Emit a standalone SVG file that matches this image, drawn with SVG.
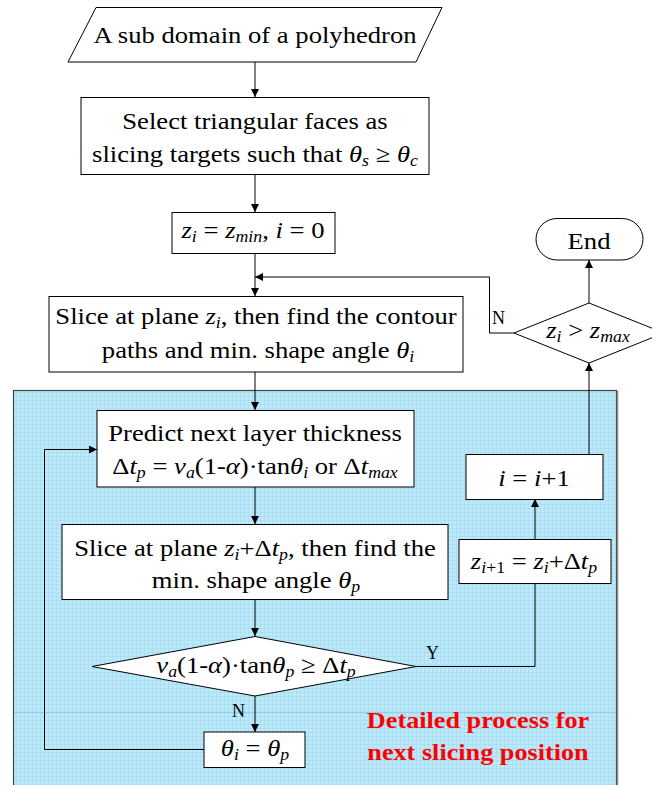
<svg xmlns="http://www.w3.org/2000/svg" width="652" height="785" viewBox="0 0 652 785">
<style>
.t{font-family:'Liberation Serif','Times New Roman',serif;font-size:24px;fill:#000;text-anchor:middle}
.it{font-style:italic}
.sb{font-size:16px;font-style:italic}
.su{font-size:16px}
.lab{font-family:'Liberation Serif','Times New Roman',serif;font-size:18px;fill:#000}
.red{font-weight:bold;fill:#ff0000;font-size:23px}
.box{fill:#fff;stroke:#000;stroke-width:1}
.ln{fill:none;stroke:#000;stroke-width:1}
</style>
<defs>
<marker id="ah" viewBox="0 0 10 10" refX="10" refY="5" markerWidth="8" markerHeight="8" markerUnits="userSpaceOnUse" orient="auto">
<path d="M0,0 L10,5 L0,10 z" fill="#000"/>
</marker>
<pattern id="grid" width="4" height="4" patternUnits="userSpaceOnUse">
<rect width="4" height="4" fill="#bde9fa"/>
<path d="M0,0.5 H4 M0.5,0 V4" stroke="#abdff4" stroke-width="1"/>
</pattern>
</defs>
<rect width="652" height="785" fill="#fff"/>
<g id="panel">
<rect x="13.5" y="390.5" width="603" height="420" fill="url(#grid)" stroke="#444" stroke-width="1.2"/>
<line x1="14" y1="712.5" x2="616" y2="712.5" stroke="#8ed2f0" stroke-width="1.5"/>
<line x1="617.5" y1="391" x2="617.5" y2="785" stroke="#888" stroke-width="1.5"/>
</g>
<g id="connectors">
<line class="ln" x1="255" y1="62" x2="255" y2="97" marker-end="url(#ah)"/>
<line class="ln" x1="255" y1="174" x2="255" y2="212" marker-end="url(#ah)"/>
<line class="ln" x1="255" y1="253" x2="255" y2="296" marker-end="url(#ah)"/>
<polyline class="ln" points="514,333 489.5,333 489.5,277 255,277" marker-end="url(#ah)"/>
<line class="ln" x1="589" y1="303" x2="589" y2="260" marker-end="url(#ah)"/>
<line class="ln" x1="589" y1="454" x2="589" y2="363" marker-end="url(#ah)"/>
<line class="ln" x1="255" y1="372" x2="255" y2="410" marker-end="url(#ah)"/>
<line class="ln" x1="255" y1="487" x2="255" y2="524" marker-end="url(#ah)"/>
<line class="ln" x1="255" y1="599" x2="255" y2="636" marker-end="url(#ah)"/>
<line class="ln" x1="255" y1="696" x2="255" y2="732" marker-end="url(#ah)"/>
<polyline class="ln" points="204,749.5 44.5,749.5 44.5,449.5 97,449.5" marker-end="url(#ah)"/>
<polyline class="ln" points="416,666.5 535,666.5 535,584"/>
<line class="ln" x1="535" y1="539" x2="535" y2="499" marker-end="url(#ah)"/>
<text class="lab" x="492" y="324">N</text>
<text class="lab" x="426" y="659">Y</text>
<text class="lab" x="232" y="717">N</text>
</g>
<g id="input">
<polygon class="box" points="96,7.5 442,7.5 416,62 68,62"/>
<text class="t" transform="translate(255,43) scale(1.11,1)">A sub domain of a polyhedron</text>
</g>
<g id="select">
<rect class="box" x="81" y="97.5" width="348" height="77"/>
<text class="t" transform="translate(255,129) scale(1.11,1)">Select triangular faces as</text>
<text class="t" transform="translate(255,162) scale(1.11,1)">slicing targets such that <tspan class="it">θ</tspan><tspan class="sb" dy="4">s</tspan><tspan dy="-4"> ≥ </tspan><tspan class="it">θ</tspan><tspan class="sb" dy="4">c</tspan></text>
</g>
<g id="init">
<rect class="box" x="172" y="212.5" width="163" height="41"/>
<text class="t" transform="translate(253,238) scale(1.11,1)"><tspan class="it">z</tspan><tspan class="sb" dy="4">i</tspan><tspan dy="-4"> = </tspan><tspan class="it">z</tspan><tspan class="sb" dy="4">min</tspan><tspan dy="-4">, </tspan><tspan class="it">i</tspan> = 0</text>
</g>
<g id="slice">
<rect class="box" x="49" y="296.5" width="414" height="75.5"/>
<text class="t" transform="translate(256,324) scale(1.11,1)">Slice at plane <tspan class="it">z</tspan><tspan class="sb" dy="4">i</tspan><tspan dy="-4">, then find the contour</tspan></text>
<text class="t" transform="translate(258,358) scale(1.11,1)">paths and min. shape angle <tspan class="it">θ</tspan><tspan class="sb" dy="4">i</tspan></text>
</g>
<g id="check-end">
<polygon class="box" points="514,333 589,303 664,333 589,363"/>
<text class="t" transform="translate(588,338) scale(1.11,1)"><tspan class="it">z</tspan><tspan class="sb" dy="4">i</tspan><tspan dy="-4"> &gt; </tspan><tspan class="it">z</tspan><tspan class="sb" dy="4">max</tspan></text>
</g>
<g id="end">
<rect class="box" x="536" y="218.5" width="107" height="41.5" rx="21" ry="21"/>
<text class="t" transform="translate(589,249) scale(1.11,1)">End</text>
</g>
<g id="predict">
<rect class="box" x="97" y="410.5" width="317" height="76.5"/>
<text class="t" transform="translate(255,441) scale(1.11,1)">Predict next layer thickness</text>
<text class="t" transform="translate(255,474) scale(1.11,1)">Δ<tspan class="it">t</tspan><tspan class="sb" dy="4">p</tspan><tspan dy="-4"> = </tspan><tspan class="it">v</tspan><tspan class="sb" dy="4">a</tspan><tspan dy="-4">(1-</tspan><tspan class="it">α</tspan>)·tan<tspan class="it">θ</tspan><tspan class="sb" dy="4">i</tspan><tspan dy="-4"> or Δ</tspan><tspan class="it">t</tspan><tspan class="sb" dy="4">max</tspan></text>
</g>
<g id="slice-next">
<rect class="box" x="62" y="524.5" width="386" height="75"/>
<text class="t" transform="translate(255,556) scale(1.11,1)">Slice at plane <tspan class="it">z</tspan><tspan class="sb" dy="4">i</tspan><tspan dy="-4">+Δ</tspan><tspan class="it">t</tspan><tspan class="sb" dy="4">p</tspan><tspan dy="-4">, then find the</tspan></text>
<text class="t" transform="translate(256,588) scale(1.11,1)">min. shape angle <tspan class="it">θ</tspan><tspan class="sb" dy="4">p</tspan></text>
</g>
<g id="check-thickness">
<polygon class="box" points="92,666.5 255,636.5 416,666.5 255,696"/>
<text class="t" transform="translate(256,673) scale(1.11,1)"><tspan class="it">v</tspan><tspan class="sb" dy="4">a</tspan><tspan dy="-4">(1-</tspan><tspan class="it">α</tspan>)·tan<tspan class="it">θ</tspan><tspan class="sb" dy="4">p</tspan><tspan dy="-4"> ≥ Δ</tspan><tspan class="it">t</tspan><tspan class="sb" dy="4">p</tspan></text>
</g>
<g id="next-z">
<rect class="box" x="459" y="539.5" width="152" height="44"/>
<text class="t" transform="translate(534,569) scale(1.11,1)"><tspan class="it">z</tspan><tspan class="sb" dy="4">i</tspan><tspan class="su">+1</tspan><tspan dy="-4"> = </tspan><tspan class="it">z</tspan><tspan class="sb" dy="4">i</tspan><tspan dy="-4">+Δ</tspan><tspan class="it">t</tspan><tspan class="sb" dy="4">p</tspan></text>
</g>
<g id="increment">
<rect class="box" x="466" y="454.5" width="137" height="45"/>
<text class="t" transform="translate(534,486) scale(1.11,1)"><tspan class="it">i</tspan> = <tspan class="it">i</tspan>+1</text>
</g>
<g id="update-angle">
<rect class="box" x="204" y="732" width="101" height="35.5"/>
<text class="t" transform="translate(255,756) scale(1.11,1)"><tspan class="it">θ</tspan><tspan class="sb" dy="4">i</tspan><tspan dy="-4"> = </tspan><tspan class="it">θ</tspan><tspan class="sb" dy="4">p</tspan></text>
</g>
<g id="note">
<text class="t red" transform="translate(478,728) scale(1.14,1)">Detailed process for</text>
<text class="t red" transform="translate(478,760) scale(1.14,1)">next slicing position</text>
</g>
</svg>
